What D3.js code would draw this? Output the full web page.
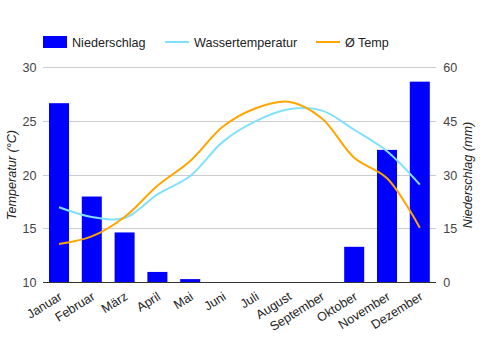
<!DOCTYPE html>
<html><head><meta charset="utf-8">
<script src="https://cdn.jsdelivr.net/npm/d3@7"></script>
<style>body{margin:0;background:#fff}svg{display:block;font-family:"Liberation Sans",Arial,sans-serif}</style>
</head><body><svg id="c" width="481" height="350"></svg>
<script>
const months = ["Januar","Februar","März","April","Mai","Juni","Juli","August","September","Oktober","November","Dezember"];
const niederschlag = [50,24,14,3,1,0,0,0,0,10,37,56];
const wassertemp = [17.0,16.1,16.0,18.2,19.9,23.1,25.0,26.1,26.0,24.2,22.2,19.1];
const temp = [13.6,14.3,16.1,19.0,21.3,24.5,26.2,26.8,25.3,21.6,19.7,15.1];
const tempTicks = [10,15,20,25,30];
const rainTicks = [0,15,30,45,60];

const FS = 12.6;
const svg = d3.select("#c");
const L = 42.6, R = 436.2, T = 67.3, B = 282.7;
const x = d3.scaleBand().domain(months).range([L,R]).paddingInner(0.39).paddingOuter(0.195);
const yT = d3.scaleLinear().domain([10,30]).range([B,T]);
const yR = d3.scaleLinear().domain([0,60]).range([B,T]);

// grid
svg.append("g").selectAll("line").data(tempTicks.slice(1)).join("line")
  .attr("x1",L).attr("x2",R).attr("y1",d=>yT(d)).attr("y2",d=>yT(d))
  .attr("stroke","#cccccc").attr("stroke-width",1).attr("shape-rendering","crispEdges");

// bars
svg.append("g").selectAll("rect").data(niederschlag).join("rect")
  .attr("x",(d,i)=>x(months[i])).attr("width",x.bandwidth())
  .attr("y",d=>yR(d)).attr("height",d=>B-yR(d)).attr("fill","#0000ff");

// baseline
svg.append("line").attr("x1",L).attr("x2",R).attr("y1",B).attr("y2",B)
  .attr("stroke","#333").attr("stroke-width",1).attr("shape-rendering","crispEdges");

const cx = i => x(months[i]) + x.bandwidth()/2;
const line = d3.line().x((d,i)=>cx(i)).y(d=>yT(d)).curve(d3.curveCatmullRom.alpha(0.5));
svg.append("path").datum(wassertemp).attr("d",line).attr("fill","none").attr("stroke","#80e1ff").attr("stroke-width",2);
svg.append("path").datum(temp).attr("d",line).attr("fill","none").attr("stroke","#ffa500").attr("stroke-width",2);

// left axis
const axL = d3.axisLeft(yT).tickValues(tempTicks).tickSize(0).tickPadding(6);
const gL = svg.append("g").attr("transform",`translate(${L},0)`).call(axL);
gL.select(".domain").remove();
gL.selectAll("text").attr("font-size",FS).attr("fill","#444").attr("font-family","Liberation Sans,Arial,sans-serif");
const axR = d3.axisRight(yR).tickValues(rainTicks).tickSize(0).tickPadding(7);
const gR = svg.append("g").attr("transform",`translate(${R},0)`).call(axR);
gR.select(".domain").remove();
gR.selectAll("text").attr("font-size",FS).attr("fill","#444").attr("font-family","Liberation Sans,Arial,sans-serif");

// x labels
const axX = d3.axisBottom(x).tickSize(0).tickPadding(0);
const gX = svg.append("g").attr("transform",`translate(0,${B})`).call(axX);
gX.select(".domain").remove();
gX.selectAll("text").attr("font-size",FS).attr("fill","#222").attr("font-family","Liberation Sans,Arial,sans-serif")
  .attr("text-anchor","end").attr("dy",null).attr("y",0)
  .attr("transform","translate(4,16) rotate(-32)");

// axis titles
svg.append("text").attr("transform",`translate(16,${(T+B)/2}) rotate(-90)`).attr("text-anchor","middle")
  .attr("font-size",FS).attr("font-style","italic").attr("fill","#222").text("Temperatur (°C)");
svg.append("text").attr("transform",`translate(472,${(T+B)/2}) rotate(-90)`).attr("text-anchor","middle")
  .attr("font-size",FS).attr("font-style","italic").attr("fill","#222").text("Niederschlag (mm)");

// legend
const lg = svg.append("g").attr("font-size",FS).attr("fill","#222");
lg.append("rect").attr("x",43).attr("y",36).attr("width",24).attr("height",12).attr("fill","#0000ff");
lg.append("text").attr("x",72).attr("y",46.5).text("Niederschlag");
lg.append("line").attr("x1",165).attr("x2",189).attr("y1",42).attr("y2",42).attr("stroke","#80e1ff").attr("stroke-width",2);
lg.append("text").attr("x",194).attr("y",46.5).text("Wassertemperatur");
lg.append("line").attr("x1",316).attr("x2",340).attr("y1",42).attr("y2",42).attr("stroke","#ffa500").attr("stroke-width",2);
lg.append("text").attr("x",345).attr("y",46.5).text("Ø Temp");
</script></body></html>
